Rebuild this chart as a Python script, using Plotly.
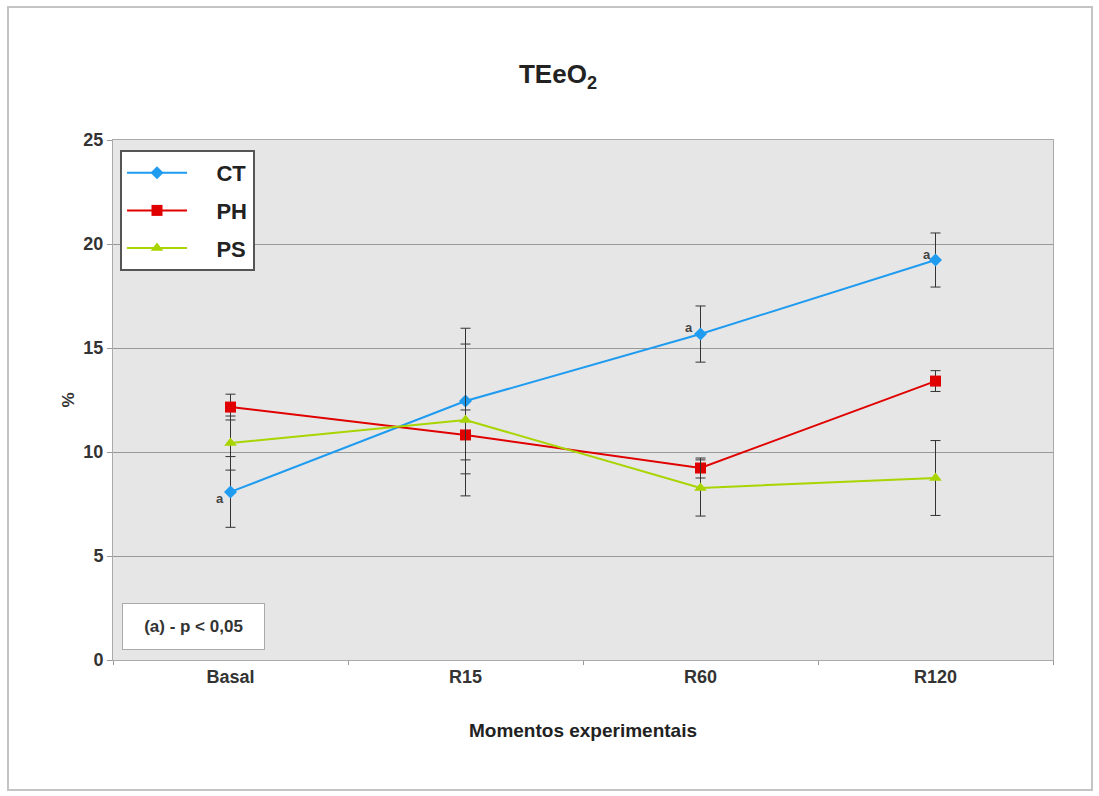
import plotly.graph_objects as go

categories = ["Basal", "R15", "R60", "R120"]
ct_values = [8.08, 12.45, 15.67, 19.23]
ct_err = [1.7, 3.5, 1.35, 1.3]
ph_values = [12.16, 10.82, 9.23, 13.41]
ph_err = [0.62, 1.2, 0.48, 0.5]
ps_values = [10.43, 11.54, 8.27, 8.75]
ps_err = [1.3, 3.65, 1.35, 1.8]
y_ticks = [0, 5, 10, 15, 20, 25]
sig_ct = ["a", "", "a", "a"]

L, R, T, B = 113, 46, 140, 136
W, H = 1099, 796
PW, PH_ = W - L - R, H - T - B
FONT = "Liberation Sans"


def px(xp):
    return (xp - L) / PW


def py(yp):
    return (H - B - yp) / PH_


fig = go.Figure()

series = [
    ("CT", ct_values, ct_err, "#1f9bf0", "diamond", 10),
    ("PH", ph_values, ph_err, "#e00000", "square", 11),
    ("PS", ps_values, ps_err, "#a8d400", "triangle-up", 11),
]
pad = "\u00a0" * 4
for i, (name, vals, err, col, sym, ms) in enumerate(series):
    fig.add_trace(go.Scatter(
        x=categories, y=vals, name=pad + name, mode="lines+markers",
        line=dict(color=col, width=2),
        marker=dict(color=col, symbol=sym, size=ms),
        error_y=dict(type="data", array=err, visible=True, color="#333333",
                     thickness=1, width=5),
        legendgroup=name,
    ))

offsets = [(-11, -7), (0, 0), (-12, 7), (-9, 6)]
for i, lab in enumerate(sig_ct):
    if lab:
        fig.add_annotation(x=categories[i], y=ct_values[i], text=lab,
                           showarrow=False, xshift=offsets[i][0], yshift=offsets[i][1],
                           font=dict(family=FONT, size=13, color="#444444",
                                     weight="bold"))

fig.add_annotation(xref="paper", yref="paper", x=px(193.5), y=py(626.5),
                   xanchor="center", yanchor="middle",
                   text="<b>(a) - p &lt; 0,05</b>", showarrow=False,
                   bgcolor="white", bordercolor="#aaaaaa", borderwidth=1,
                   width=139, height=43,
                   font=dict(family=FONT, size=17, color="#333333"))

fig.add_shape(type="rect", xref="paper", yref="paper",
              x0=px(8), x1=px(1092), y0=py(790), y1=py(7),
              line=dict(color="#c4c4c4", width=2), layer="below")

fig.update_layout(
    width=W, height=H,
    margin=dict(l=L, r=R, t=T, b=B),
    paper_bgcolor="white",
    plot_bgcolor="#e6e6e6",
    title=dict(text="<b>TEeO<sub>2</sub></b>", x=558 / W, xanchor="center",
               y=1 - 74 / H, yanchor="middle",
               font=dict(family=FONT, size=26, color="#222222")),
    legend=dict(x=px(120), y=py(150), xanchor="left", yanchor="top",
                bgcolor="white", bordercolor="#555555", borderwidth=2,
                font=dict(family=FONT, size=22, color="#222222",
                          weight="bold"),
                traceorder="grouped", tracegroupgap=6, itemwidth=60),
    xaxis=dict(
        type="category", range=[-0.5, 3.5], tickson="boundaries",
        ticks="outside", ticklen=4, tickcolor="#999999",
        showline=True, linecolor="#aaaaaa", linewidth=1, mirror=True,
        showgrid=False,
        tickfont=dict(family=FONT, size=18, color="#333333", weight="bold"),
        title=dict(text="Momentos experimentais", standoff=38,
                   font=dict(family=FONT, size=19, color="#222222",
                             weight="bold")),
    ),
    yaxis=dict(
        range=[0, 25], tickvals=y_ticks, ticks="outside", ticklen=5,
        tickcolor="#999999", showline=True, linecolor="#aaaaaa", linewidth=1,
        mirror=True, gridcolor="#999999", gridwidth=1, zeroline=False,
        tickfont=dict(family=FONT, size=18, color="#333333", weight="bold"),
        title=dict(text="%", standoff=4,
                   font=dict(family=FONT, size=17, color="#333333",
                             weight="bold")),
    ),
)

fig.write_html("out.html")
